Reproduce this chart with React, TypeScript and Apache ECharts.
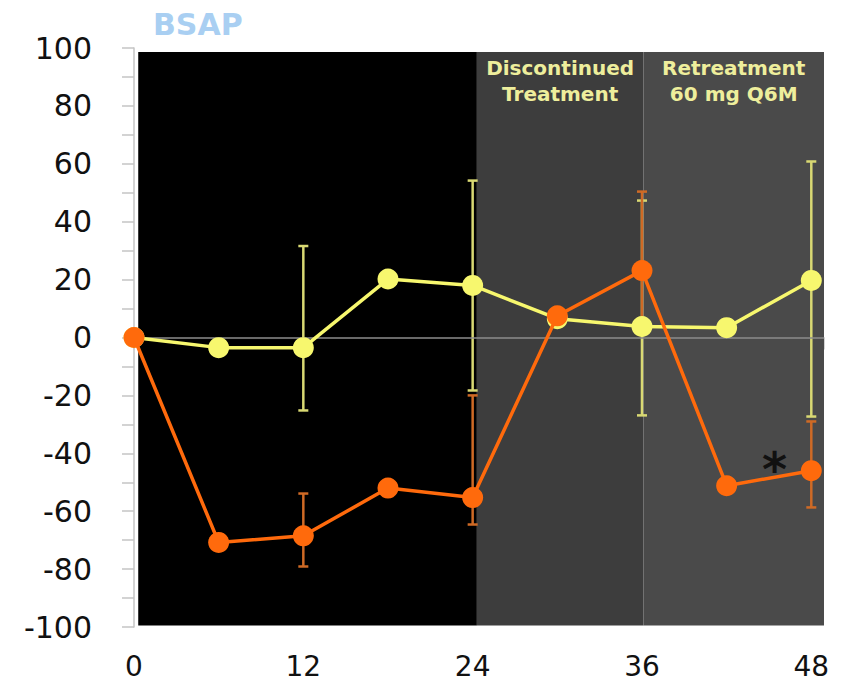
import React, { useEffect, useRef } from "react";
import * as echarts from "echarts";

// ---- data ----
const months = [0, 6, 12, 18, 24, 30, 36, 42, 48];
const yellowValues = [0, -3.5, -3.5, 20.2, 18, 6.5, 3.8, 3.4, 19.7];
const orangeValues = [0, -70.8, -68.5, -52, -55.3, 7.5, 23.1, -51.2, -46];

const yellowErrMonths = [12, 24, 36, 48];
const yellowErrLow = [-25.2, -18.3, -26.9, -27.3];
const yellowErrHigh = [31.6, 54.2, 47.3, 60.8];

const orangeErrMonths = [12, 24, 36, 48];
const orangeErrLow = [-79.1, -64.6, 4, -58.7];
const orangeErrHigh = [-53.9, -20, 50.4, -29];

const xTickLabels = [0, 12, 24, 36, 48];

const periodStart = [0.3, 24.3, 36.1];
const periodEnd = [24.3, 36.1, 48.9];
const periodLabels = ["", "Discontinued\nTreatment", "Retreatment\n60 mg Q6M"];
const periodColors = ["#000000", "#3d3d3d", "#4a4a4a"];

const asteriskPos = [45.4, -45.5];

const ORANGE = "#ff6a0c";
const YELLOW = "#f7f76e";

function errorRenderer(color: string) {
  return (params: any, api: any) => {
    const x = api.value(0);
    const lo = api.value(1);
    const hi = api.value(2);
    const pHi = api.coord([x, hi]);
    const pLo = api.coord([x, lo]);
    const cap = 5;
    const style = { stroke: color, lineWidth: 2.5 };
    return {
      type: "group",
      children: [
        { type: "line", shape: { x1: pHi[0], y1: pHi[1], x2: pLo[0], y2: pLo[1] }, style },
        { type: "line", shape: { x1: pHi[0] - cap, y1: pHi[1], x2: pHi[0] + cap, y2: pHi[1] }, style },
        { type: "line", shape: { x1: pLo[0] - cap, y1: pLo[1], x2: pLo[0] + cap, y2: pLo[1] }, style },
      ],
    };
  };
}

export default function App() {
  const ref = useRef<HTMLDivElement>(null);
  useEffect(() => {
    if (!ref.current) return;
    const chart = echarts.init(ref.current, undefined, { renderer: "svg" });
    const axisGrey = "#c4c4c4";
    const option: any = {
      animation: false,
      backgroundColor: "#ffffff",
      title: {
        text: "BSAP",
        left: 148,
        top: 4,
        textStyle: { fontSize: 30, fontWeight: "bold", color: "#a9cff2", fontFamily: "DejaVu Sans" },
      },
      grid: { left: 134, right: 18, top: 48, bottom: 56, containLabel: false },
      xAxis: {
        type: "value",
        min: 0,
        max: 48.9,
        interval: 6,
        axisLine: { show: true, lineStyle: { color: axisGrey, width: 1.5 } },
        axisTick: { show: true, length: 12, lineStyle: { color: axisGrey, width: 1.5 } },
        splitLine: { show: false },
        axisLabel: {
          margin: 25,
          fontSize: 28,
          color: "#111",
          fontFamily: "DejaVu Sans",
          formatter: (v: number) => (xTickLabels.includes(v) ? String(v) : ""),
        },
      },
      yAxis: {
        type: "value",
        min: -100,
        max: 100,
        interval: 20,
        axisLine: { show: true, lineStyle: { color: axisGrey, width: 1.5 } },
        axisTick: { show: true, length: 12, lineStyle: { color: axisGrey, width: 1.5 } },
        minorTick: { show: true, splitNumber: 2, length: 12, lineStyle: { color: axisGrey, width: 1.5 } },
        splitLine: { show: false },
        axisLabel: { margin: 42, fontSize: 30, color: "#111", fontFamily: "DejaVu Sans" },
      },
      series: [
        {
          type: "line",
          data: [],
          z: 0,
          silent: true,
          markArea: {
            silent: true,
            data: periodStart.map((s, i) => [
              {
                xAxis: s,
                yAxis: -99.5,
                itemStyle: { color: periodColors[i], opacity: 1 },
                label: {
                  show: periodLabels[i] !== "",
                  formatter: periodLabels[i],
                  position: "insideTop",
                  distance: 3,
                  fontSize: 20,
                  lineHeight: 26,
                  fontWeight: "bold",
                  fontFamily: "DejaVu Sans",
                  color: "#eeee9c",
                  align: "center",
                },
              },
              { xAxis: periodEnd[i], yAxis: 98.6 },
            ]),
          },
          markLine: {
            silent: true,
            symbol: "none",
            label: { show: false },
            lineStyle: { color: "#8c8c8c", width: 1.5, type: "solid" },
            data: [{ yAxis: 0 }],
          },
        },
        {
          type: "custom",
          z: 3,
          renderItem: errorRenderer("#d9d973"),
          encode: { x: 0, y: [1, 2] },
          data: yellowErrMonths.map((m, i) => [m, yellowErrLow[i], yellowErrHigh[i]]),
        },
        {
          type: "custom",
          z: 4,
          renderItem: errorRenderer("#cf6a25"),
          encode: { x: 0, y: [1, 2] },
          data: orangeErrMonths.map((m, i) => [m, orangeErrLow[i], orangeErrHigh[i]]),
        },
        {
          type: "line",
          z: 5,
          data: months.map((m, i) => [m, yellowValues[i]]),
          symbol: "circle",
          symbolSize: 21,
          lineStyle: { color: YELLOW, width: 3.5 },
          itemStyle: { color: YELLOW },
        },
        {
          type: "line",
          z: 6,
          data: months.map((m, i) => [m, orangeValues[i]]),
          symbol: "circle",
          symbolSize: 21,
          lineStyle: { color: ORANGE, width: 3.5 },
          itemStyle: { color: ORANGE },
          markPoint: {
            silent: true,
            symbol: "circle",
            symbolSize: 1,
            itemStyle: { color: "rgba(0,0,0,0)" },
            data: [
              {
                coord: asteriskPos,
                label: {
                  show: true,
                  position: "inside",
                  formatter: "*",
                  fontSize: 48,
                  fontWeight: "bold",
                  color: "#111",
                  fontFamily: "DejaVu Sans",
                },
              },
            ],
          },
        },
      ],
    };
    chart.setOption(option);
    return () => chart.dispose();
  }, []);
  return (
    <div
      ref={ref}
      style={{ position: "fixed", left: 0, top: 0, width: 842, height: 683, background: "#fff" }}
    />
  );
}
